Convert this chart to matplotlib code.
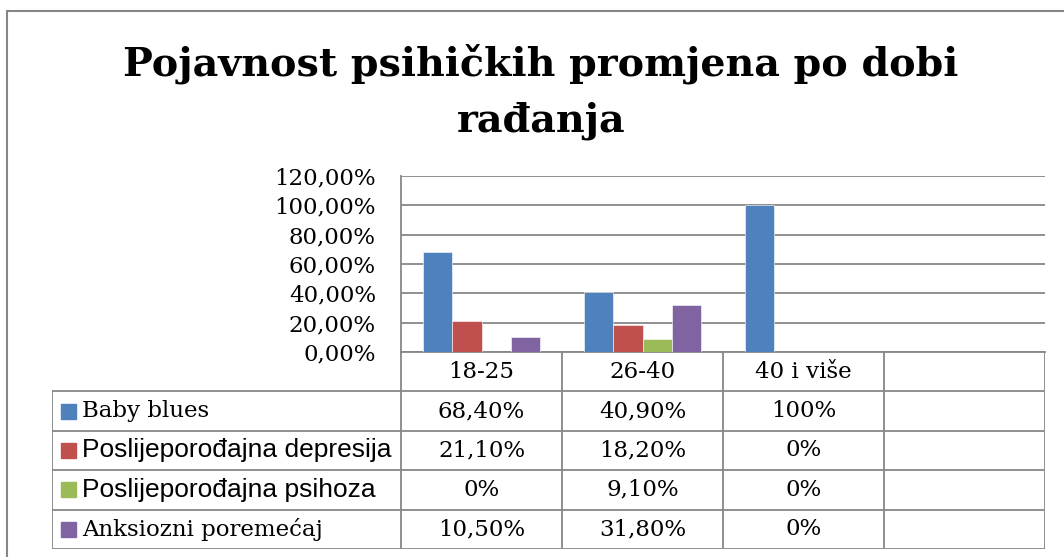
import matplotlib.pyplot as plt
from matplotlib.patches import Rectangle

categories = ['18-25', '26-40', '40 i više', '']
series = ['Baby blues', 'Poslijeporođajna depresija', 'Poslijeporođajna psihoza', 'Anksiozni poremećaj']
values = [
    [68.4, 40.9, 100.0, 0.0],
    [21.1, 18.2, 0.0, 0.0],
    [0.0, 9.1, 0.0, 0.0],
    [10.5, 31.8, 0.0, 0.0],
]
cell_text = [
    ['68,40%', '40,90%', '100%', ''],
    ['21,10%', '18,20%', '0%', ''],
    ['0%', '9,10%', '0%', ''],
    ['10,50%', '31,80%', '0%', ''],
]
colors = ['#4F81BD', '#C0504D', '#9BBB59', '#8064A2']
label_fonts = ['DejaVu Serif', 'Liberation Sans', 'Liberation Sans', 'DejaVu Serif']
label_sizes = [16.5, 19, 19, 16.5]
yticks = [0, 20, 40, 60, 80, 100, 120]
title_lines = ['Pojavnost psihičkih promjena po dobi', 'rađanja']

W, H = 1064, 557
grid_c = '#878787'
fig = plt.figure(figsize=(W / 100, H / 100), dpi=100)

# outer chart border (right/bottom cut off like the reference)
fig.patches.append(Rectangle((7 / W, -0.1), 1.2, 1.1 - 11 / H, transform=fig.transFigure,
                             fill=False, edgecolor=grid_c, linewidth=1.5))

for line, base in zip(title_lines, [76, 132]):
    fig.text(541 / W, 1 - base / H, line, ha='center', va='baseline',
             fontsize=28.5, fontweight='bold', family='DejaVu Serif')

# plot area
x0, x1, y_top, y_bot = 401, 1045, 176, 352
ax = fig.add_axes([x0 / W, 1 - y_bot / H, (x1 - x0) / W, (y_bot - y_top) / H])
n = len(series)
w = 1 / 5.5
for j, (s, vals) in enumerate(zip(series, values)):
    xs = [i + (j - (n - 1) / 2) * w for i in range(len(categories))]
    ax.bar(xs, vals, width=w, color=colors[j], edgecolor='white', linewidth=0.4, zorder=3)

ax.set_xlim(-0.5, len(categories) - 0.5)
ax.set_ylim(0, 120)
ax.set_yticks(yticks)
ax.set_yticklabels([f'{t},00%' for t in yticks], family='DejaVu Serif', fontsize=16.5)
ax.tick_params(axis='y', length=0, pad=18)
ax.set_xticks([])
ax.grid(axis='y', color=grid_c, linewidth=1.3, zorder=0)
for side in ['top', 'right']:
    ax.spines[side].set_visible(False)
for side in ['left', 'bottom']:
    ax.spines[side].set_color(grid_c)
    ax.spines[side].set_linewidth(1.3)

# data table below the plot
t_left, t_bot = 52, 549
label_w = (x0 - t_left) / ((x1 - x0) / len(categories))
tax = fig.add_axes([t_left / W, 1 - t_bot / H, (x1 - t_left) / W, (t_bot - y_bot) / H])
tax.set_xlim(-0.5 - label_w, len(categories) - 0.5)
tax.set_ylim(len(series) + 1, 0)
tax.axis('off')
lx = -0.5 - label_w
kw = dict(color=grid_c, linewidth=1.3)
for r in range(1, len(series) + 2):
    tax.plot([lx, len(categories) - 0.5], [r, r], **kw)
tax.plot([lx, lx], [1, len(series) + 1], **kw)
for b in range(len(categories) + 1):
    tax.plot([b - 0.5, b - 0.5], [0, len(series) + 1], **kw)
for i, c in enumerate(categories):
    tax.text(i, 0.5, c, ha='center', va='center', family='DejaVu Serif', fontsize=16.5)
sq = 15 / 161
for r, s in enumerate(series):
    y = r + 1.5
    tax.add_patch(Rectangle((lx + 9 / 161, y - 0.19), sq, 0.38, color=colors[r]))
    tax.text(lx + 30 / 161, y, s, ha='left', va='center', family=label_fonts[r], fontsize=label_sizes[r])
    for i, t in enumerate(cell_text[r]):
        tax.text(i, y, t, ha='center', va='center', family='DejaVu Serif', fontsize=16.5)

fig.savefig('out.png', dpi=100)
